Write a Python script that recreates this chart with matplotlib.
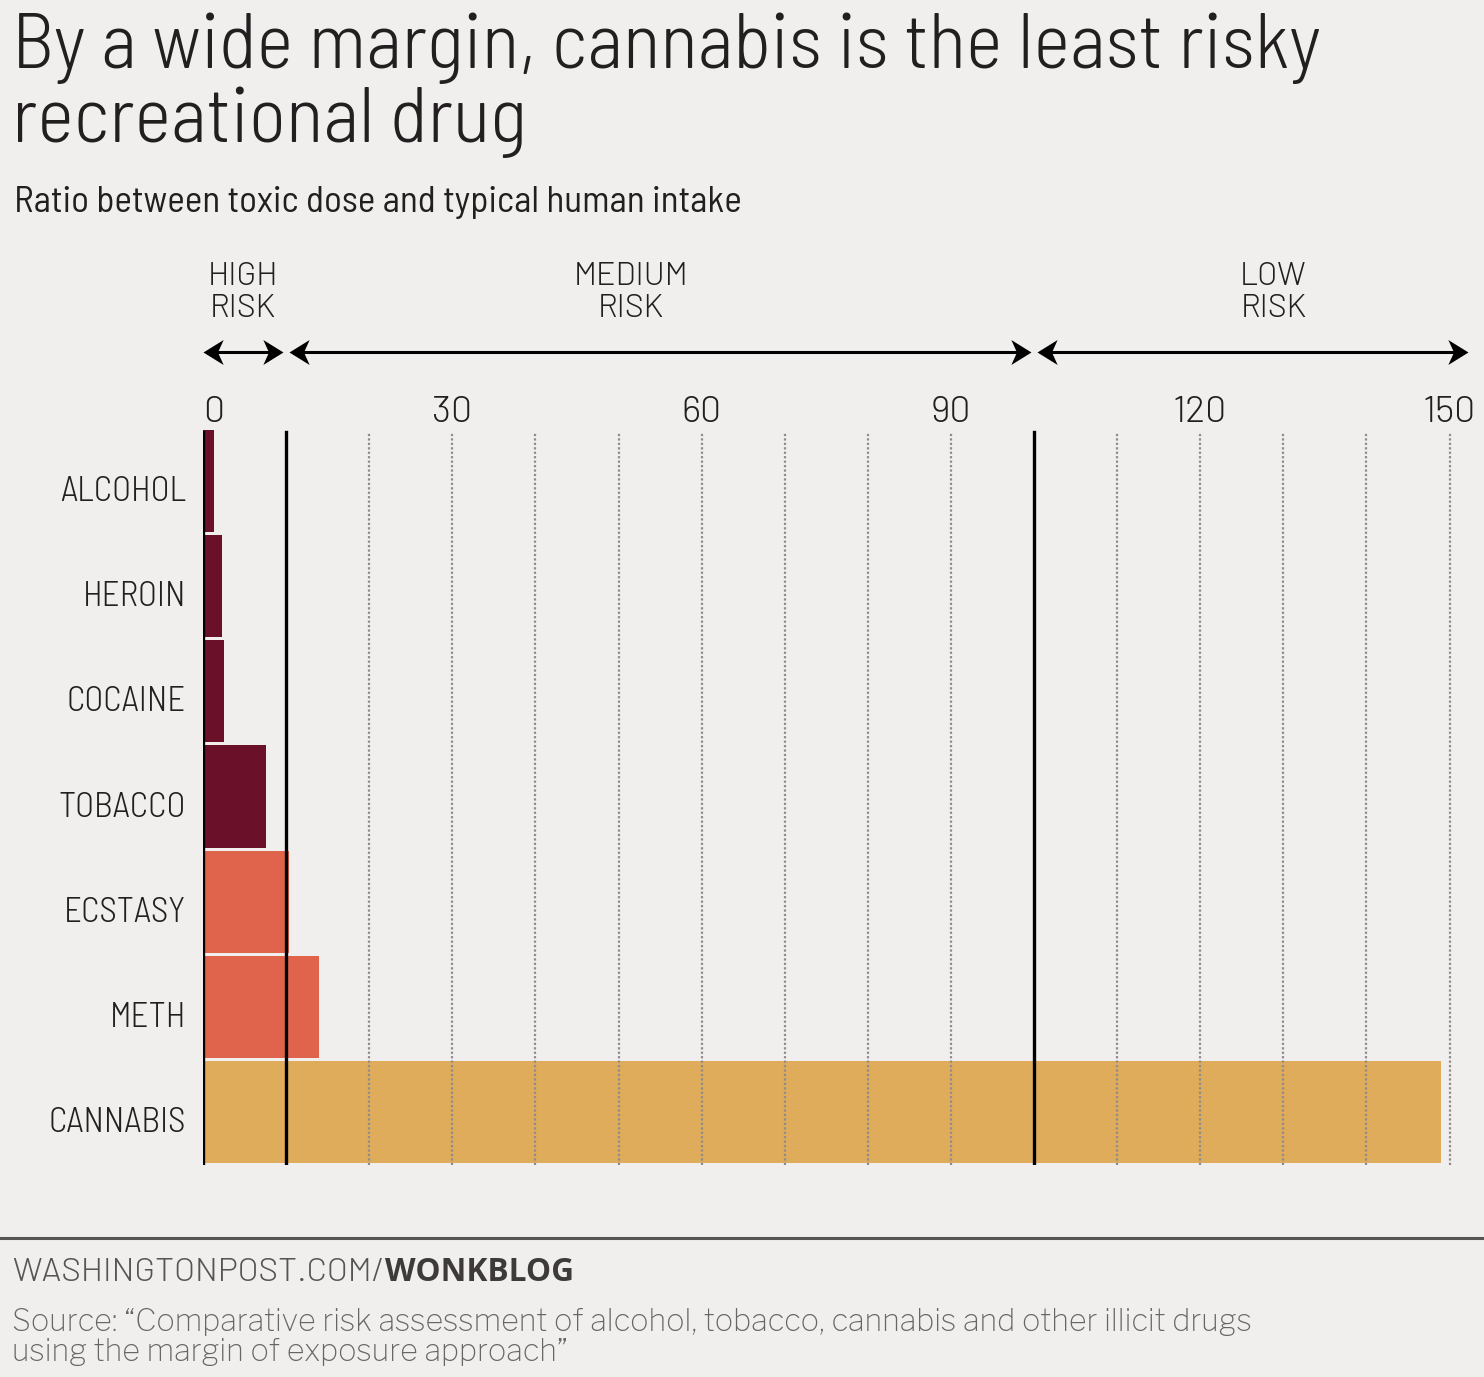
import matplotlib
matplotlib.use('Agg')
import matplotlib.pyplot as plt
from matplotlib.path import Path
from matplotlib.transforms import blended_transform_factory, offset_copy

# --- data ---
drugs = ["ALCOHOL", "HEROIN", "COCAINE", "TOBACCO", "ECSTASY", "METH", "CANNABIS"]
ratios = [1.3, 2.3, 2.5, 7.6, 10.4, 13.9, 149.0]
xticks = [0, 30, 60, 90, 120, 150]
risk_names = ["HIGH\nRISK", "MEDIUM\nRISK", "LOW\nRISK"]
risk_edges = [0, 10, 100, 152.2]

# --- style ---
bg = "#f0efee"
ink = "#231f20"
bar_colors = ["#6a1029"] * 4 + ["#e0644b"] * 2 + ["#dfac5b"]
semi = ["Barlow Semi Condensed", "DejaVu Sans"]
wide = ["Barlow", "DejaVu Sans"]
opens = ["Open Sans", "DejaVu Sans"]
franklin = ["Libre Franklin", "DejaVu Sans"]

W, H = 1484, 1377
fig = plt.figure(figsize=(W / 100, H / 100), dpi=100)
fig.patch.set_facecolor(bg)
renderer = fig.canvas.get_renderer()


def fx(px):
    return px / W


def fy(px):
    return 1 - px / H


def fit(t, width_px):
    # scale the font so the text spans the width measured on the reference
    w = t.get_window_extent(renderer).width
    t.set_fontsize(t.get_fontsize() * width_px / w)
    return t.get_fontsize()


x0_px, unit_px = 203, 8.31
ax = fig.add_axes([fx(x0_px), fy(1165), fx(153 * unit_px), (1165 - 428) / H])
ax.set_facecolor(bg)
ax.set_xlim(0, 153)
ax.set_ylim(6.5, -0.5)
for s in ax.spines.values():
    s.set_visible(False)
ax.set_xticks([])
ax.set_yticks([])

ax.barh(range(len(drugs)), ratios, height=0.97, color=bar_colors, linewidth=0, zorder=1)

# grid lines, every 10
for v in range(20, 151, 10):
    if v == 100:
        continue
    ax.axvline(v, ymin=0, ymax=0.995, color="#8c8c8c", lw=1.6,
               linestyle=(0, (1, 1)), zorder=3)
for v in [0, 10, 100]:
    ax.axvline(v, ymin=0, ymax=0.995, color="black", lw=2.4, zorder=4)

xfig = blended_transform_factory(ax.transData, fig.transFigure)

# tick numbers
tk = ax.text(120, fy(422), "120", transform=xfig, fontsize=22, family=wide, weight=300)
tsize = fit(tk, 54)
tk.remove()
for t in xticks:
    ax.text(t, fy(422), str(t), transform=xfig, ha="left" if t == 0 else "center",
            va="baseline", fontsize=tsize, color=ink, family=wide, weight=300)

# swept-back arrow heads
head_r = Path([(0, 0), (-1, 0.62), (-0.72, 0), (-1, -0.62), (0, 0)],
              [Path.MOVETO, Path.LINETO, Path.LINETO, Path.LINETO, Path.CLOSEPOLY])
head_l = Path([(0, 0), (1, 0.62), (0.72, 0), (1, -0.62), (0, 0)],
              [Path.MOVETO, Path.LINETO, Path.LINETO, Path.LINETO, Path.CLOSEPOLY])

# risk band arrows and labels
label_x = [4.8, 51.5, 128.8]
gap = 0.35
ay = fy(352)
rt = ax.text(0, 0, "MEDIUM", fontsize=22, family=wide, weight=300)
rsize = fit(rt, 115)
rt.remove()
for i, name in enumerate(risk_names):
    a = risk_edges[i] + (gap if i > 0 else 0)
    b = risk_edges[i + 1] - (gap if i < 2 else 0)
    ax.plot([a + 1, b - 1], [ay, ay], transform=xfig, color="black", lw=2.2,
            solid_capstyle="butt", clip_on=False)
    ax.plot([a], [ay], transform=xfig, marker=head_l, ms=29, color="black",
            mew=0, clip_on=False)
    ax.plot([b], [ay], transform=xfig, marker=head_r, ms=29, color="black",
            mew=0, clip_on=False)
    ax.text(label_x[i], fy(293), name, transform=xfig, ha="center", va="center",
            multialignment="center", fontsize=rsize, color=ink, family=wide,
            weight=300, linespacing=1.1)

# drug labels
yfig = offset_copy(blended_transform_factory(fig.transFigure, ax.transData),
                   fig=fig, y=-11, units="dots")
dt = ax.text(0, 0, "ALCOHOL", fontsize=22, family=semi, weight=300)
dsize = fit(dt, 126)
dt.remove()
for i, d in enumerate(drugs):
    ax.text(fx(186), i, d, transform=yfig, ha="right", va="center",
            fontsize=dsize, color=ink, family=semi, weight=300)

# titles
t1 = fig.text(fx(12), fy(68), "By a wide margin, cannabis is the least risky",
              fontsize=50, color=ink, family=semi, weight=300, va="baseline")
tsz = fit(t1, 1310)
fig.text(fx(12), fy(142), "recreational drug",
         fontsize=tsz, color=ink, family=semi, weight=300, va="baseline")
st = fig.text(fx(14), fy(212), "Ratio between toxic dose and typical human intake",
              fontsize=22, color=ink, family=semi, weight=400, va="baseline")
fit(st, 727)

# footer
fig.add_artist(plt.Line2D([0, 1], [fy(1238), fy(1238)], color="#555555", lw=2.2))
f1 = fig.text(fx(12), fy(1281), "WASHINGTONPOST.COM/", fontsize=21, color="#555555",
              family=wide, weight=300, va="baseline")
fit(f1, 373)
bb = f1.get_window_extent(renderer)
f2 = fig.text(bb.x1 / W, fy(1281), "WONKBLOG", fontsize=21, color="#3d3a39",
              family=opens, weight="bold", va="baseline")
fit(f2, 189)
s1 = fig.text(fx(12), fy(1331),
              "Source: \u201cComparative risk assessment of alcohol, tobacco, cannabis and other illicit drugs",
              fontsize=20, color="#666666", family=franklin, weight=400, va="baseline")
ssz = min(fit(s1, 1378), 22)
s1.set_fontsize(ssz)
fig.text(fx(12), fy(1361), "using the margin of exposure approach\u201d",
         fontsize=ssz, color="#666666", family=franklin, weight=400, va="baseline")

fig.savefig("out.png", dpi=100, facecolor=bg)
